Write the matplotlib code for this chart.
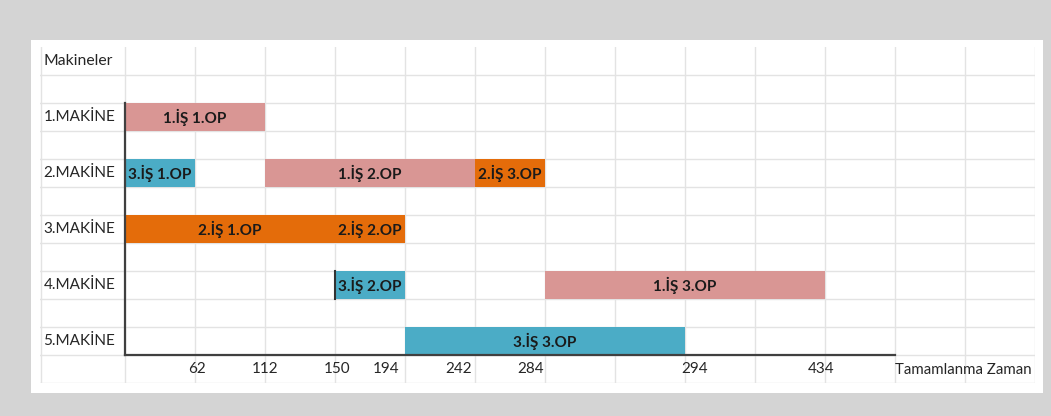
import matplotlib
matplotlib.use("Agg")
import matplotlib.pyplot as plt
from matplotlib.patches import Rectangle

plt.rcParams['font.family'] = ['Lato', 'DejaVu Sans']

# DATA (x in sheet columns from the axis, one column = one cell)
machines = ["1.MAKİNE", "2.MAKİNE", "3.MAKİNE", "4.MAKİNE", "5.MAKİNE"]
task_machine = [0, 1, 1, 1, 2, 2, 3, 3, 4]
task_label = ["1.İŞ 1.OP", "3.İŞ 1.OP", "1.İŞ 2.OP", "2.İŞ 3.OP",
              "2.İŞ 1.OP", "2.İŞ 2.OP", "3.İŞ 2.OP", "1.İŞ 3.OP", "3.İŞ 3.OP"]
task_job = [1, 3, 1, 2, 2, 2, 3, 1, 3]
task_start = [0, 0, 2, 5, 0, 3, 3, 6, 4]
task_span = [2, 1, 3, 1, 3, 1, 1, 4, 4]
tick_labels = ["62", "112", "150", "194", "242", "284", "294", "434"]
tick_cols = [1.03, 2.0, 3.03, 3.73, 4.77, 5.79, 8.14, 9.94]

job_colors = {1: "#d99694", 2: "#e46c0a", 3: "#4bacc6"}
GRID = "#e3e3e3"
TXT = "#262626"

W, H = 1051, 416
fig = plt.figure(figsize=(W / 100, H / 100), dpi=100, facecolor="#d4d4d4")

# white sheet area
fig.patches.append(Rectangle((31 / W, 1 - 393 / H), (1043 - 31) / W, (393 - 40) / H,
                             transform=fig.transFigure, facecolor="white",
                             edgecolor="none", zorder=0))

# grid area: x 40..1035 px, y 47..383 px
left_px, right_px, top_px, bot_px = 40, 1035, 47, 383
ax = fig.add_axes([left_px / W, 1 - bot_px / H, (right_px - left_px) / W, (bot_px - top_px) / H])
ax.set_zorder(5)
ax.set_facecolor("none")
ncols = 13
x0 = -(125 - left_px) / 70
ax.set_xlim(x0, ncols)
nrows = 12
ax.set_ylim(nrows, 0)
ax.axis("off")

# sheet cells
for c in range(0, ncols + 1):
    ax.plot([c, c], [0, nrows], color=GRID, lw=1, zorder=1)
ax.plot([x0 + 0.01, x0 + 0.01], [0, nrows], color=GRID, lw=1, zorder=1)
for r in range(1, nrows + 1):
    ax.plot([x0, ncols], [r, r], color=GRID, lw=1, zorder=1)

ax.text(x0 + 0.05, 0.5, "Makineler", ha="left", va="center", fontsize=11.3, color=TXT)
for i, m in enumerate(machines):
    ax.text(x0 + 0.05, 2 + 2 * i + 0.5, m, ha="left", va="center", fontsize=11, color=TXT)

# bars
rows = [2 + 2 * m + 0.5 for m in task_machine]
colors = [job_colors[j] for j in task_job]
ax.barh(rows, task_span, left=task_start, height=1, color=colors, zorder=2)
for r, s, w, lab in zip(rows, task_start, task_span, task_label):
    ax.text(s + w / 2, r, lab, ha="center", va="center", fontsize=11,
            fontweight="bold", color="#1a1a1a", zorder=3)
# dark edge on the 4th machine bar start
ax.plot([3, 3], [8, 9], color="#333333", lw=1.5, zorder=4)

# axes
ax.plot([0, 0], [2, 11], color="#404040", lw=1.6, zorder=4)
ax.plot([0, 11], [11, 11], color="#404040", lw=1.6, zorder=4)

for lab, c in zip(tick_labels, tick_cols):
    ax.text(c, 11.5, lab, ha="center", va="center", fontsize=11, color=TXT)
ax.text(11.0, 11.55, "Tamamlanma Zaman", ha="left", va="center", fontsize=10.8, color=TXT)

fig.savefig("out.png", dpi=100, facecolor=fig.get_facecolor())
